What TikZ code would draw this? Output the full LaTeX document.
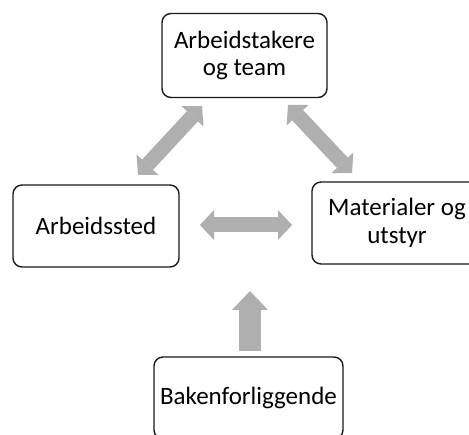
\documentclass[tikz,border=0pt]{standalone}
\usepackage{fontspec}
\setmainfont{Carlito}
\usetikzlibrary{arrows.meta}
\definecolor{arrowgray}{HTML}{AFAFAF}
\definecolor{boxline}{HTML}{1A1A1A}
\begin{document}
\begin{tikzpicture}[x=1pt,y=-1pt,
  box/.style={draw=boxline, line width=1.4pt, rounded corners=9pt, align=center,
    font=\fontsize{25}{27.5}\selectfont, inner sep=0pt},
  twoway/.style={draw=arrowgray, line width=15pt, {Triangle[length=14pt,width=30pt,line width=0pt]}-{Triangle[length=14pt,width=30pt,line width=0pt]}},
  oneway/.style={draw=arrowgray, line width=22pt, -{Triangle[length=19pt,width=36pt,line width=0pt]}}
]
\useasboundingbox (0,0) rectangle (469,435);
\clip (0,0) rectangle (469,435);
\fill[white] (0,0) rectangle (469,435);

\node[box, minimum width=165pt, minimum height=84pt] (team) at (244.5,55.5) {Arbeidstakere\\og team};
\node[box, minimum width=166pt, minimum height=82pt] (sted) at (96,226) {Arbeidssted};
\node[box, minimum width=170pt, minimum height=82pt] (mat) at (397,223) {Materialer og\\utstyr};
\node[box, minimum width=189pt, minimum height=82pt] (bak) at (248.5,398) {Bakenforliggende};

\coordinate (a1) at (138,175);
\coordinate (a2) at (202,106);
\coordinate (b1) at (288,105);
\coordinate (b2) at (352,173);
\coordinate (c1) at (200,225);
\coordinate (c2) at (292,225);
\coordinate (d1) at (250,351);
\coordinate (d2) at (250,291);

\draw[twoway] (a1) -- (a2);
\draw[twoway] (b1) -- (b2);
\draw[twoway] (c1) -- (c2);
\draw[oneway] (d1) -- (d2);
\end{tikzpicture}
\end{document}
